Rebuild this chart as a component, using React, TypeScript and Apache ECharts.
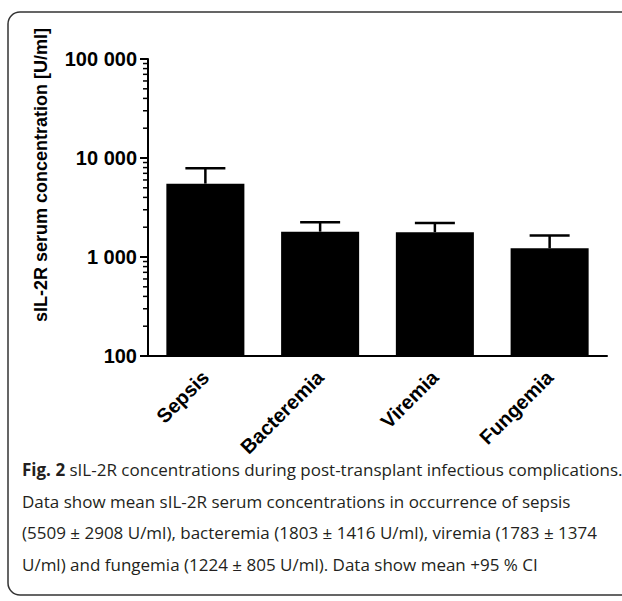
import React, { useEffect, useRef } from "react";
import * as echarts from "echarts";

const categories = ["Sepsis", "Bacteremia", "Viremia", "Fungemia"];
const meanValues = [5509, 1803, 1783, 1224];
const upperCI = [7900, 2250, 2200, 1650];
const majorTicks = [100, 1000, 10000, 100000];
const majorTickLabels = ["100", "1 000", "10 000", "100 000"];
const minorTicks = [
  200, 300, 400, 500, 600, 700, 800, 900,
  2000, 3000, 4000, 5000, 6000, 7000, 8000, 9000,
  20000, 30000, 40000, 50000, 60000, 70000, 80000, 90000,
];
const yAxisTitle = "sIL-2R serum concentration [U/ml]";
const captionLines = [
  " sIL-2R concentrations during post-transplant infectious complications.",
  "Data show mean sIL-2R serum concentrations in occurrence of sepsis",
  "(5509 ± 2908 U/ml), bacteremia (1803 ± 1416 U/ml), viremia (1783 ± 1374",
  "U/ml) and fungemia (1224 ± 805 U/ml). Data show mean +95 % CI",
];
const captionLead = "Fig. 2";

const AXIS_FONT = "'Liberation Sans', Arial, sans-serif";
const CAPTION_FONT = "'Open Sans', 'Noto Sans', sans-serif";

export default function App() {
  const ref = useRef<HTMLDivElement>(null);

  useEffect(() => {
    if (!ref.current) return;
    const chart = echarts.init(ref.current, undefined, { renderer: "svg" });

    const captionGraphics = captionLines.map((line, i) => ({
      type: "text",
      left: 22,
      top: 461 + i * 31.5,
      style: {
        text: i === 0 ? `{b|${captionLead}}${line}` : line,
        font: `17px ${CAPTION_FONT}`,
        fill: "#231f20",
        rich: {
          b: { fontWeight: "bold", fontSize: 17, fontFamily: CAPTION_FONT, fill: "#231f20" },
        },
      },
    }));

    chart.setOption({
      animation: false,
      grid: { left: 148, right: 15, top: 59, bottom: 245, containLabel: false },
      xAxis: {
        type: "category",
        data: categories,
        axisLine: { lineStyle: { color: "#000", width: 2 } },
        axisTick: { alignWithLabel: true, length: 10, lineStyle: { color: "#000", width: 2 } },
        axisLabel: {
          interval: 0,
          rotate: 45,
          margin: 18,
          color: "#000",
          fontWeight: "bold",
          fontSize: 20,
          fontFamily: AXIS_FONT,
        },
      },
      yAxis: {
        type: "log",
        logBase: 10,
        min: 100,
        max: 100000,
        splitLine: { show: false },
        axisLine: { show: true, lineStyle: { color: "#000", width: 2 } },
        axisTick: { show: true, length: 8, lineStyle: { color: "#000", width: 2 } },
        minorTick: { show: false },
        axisLabel: {
          margin: 11,
          color: "#000",
          fontWeight: "bold",
          fontSize: 20,
          fontFamily: AXIS_FONT,
          formatter: (v: number) => {
            const idx = majorTicks.findIndex((t) => Math.abs(t - v) / t < 1e-6);
            return idx >= 0 ? majorTickLabels[idx] : "";
          },
        },
      },
      series: [
        {
          type: "bar",
          data: meanValues,
          barWidth: "68%",
          itemStyle: { color: "#000" },
          z: 2,
        },
        {
          type: "custom",
          data: categories.map((_, i) => [i, meanValues[i], upperCI[i]]),
          renderItem: (params: any, api: any) => {
            const x = api.value(0);
            const base = api.coord([x, api.value(1)]);
            const top = api.coord([x, api.value(2)]);
            const half = 20;
            return {
              type: "group",
              children: [
                {
                  type: "line",
                  shape: { x1: base[0], y1: base[1], x2: top[0], y2: top[1] },
                  style: { stroke: "#000", lineWidth: 2.5 },
                },
                {
                  type: "line",
                  shape: { x1: top[0] - half, y1: top[1], x2: top[0] + half, y2: top[1] },
                  style: { stroke: "#000", lineWidth: 2.5 },
                },
              ],
            };
          },
          z: 3,
        },
        {
          type: "custom",
          data: minorTicks.map((v) => [0, v]),
          renderItem: (params: any, api: any) => {
            const p = api.coord([0, api.value(1)]);
            const ax = params.coordSys.x;
            return {
              type: "line",
              shape: { x1: ax - 5, y1: p[1], x2: ax, y2: p[1] },
              style: { stroke: "#000", lineWidth: 1.5 },
            };
          },
          z: 3,
        },
      ],
      graphic: [
        {
          type: "rect",
          shape: { x: 8, y: 12, width: 700, height: 583, r: 12 },
          style: { fill: "none", stroke: "#333", lineWidth: 1.5 },
          silent: true,
        },
        {
          type: "text",
          x: 41,
          y: 175,
          rotation: Math.PI / 2,
          style: {
            text: yAxisTitle,
            font: `bold 18px ${AXIS_FONT}`,
            fill: "#000",
            align: "center",
            verticalAlign: "middle",
          },
        },
        ...captionGraphics,
      ],
    });

    return () => chart.dispose();
  }, []);

  return (
    <div
      ref={ref}
      style={{ position: "fixed", left: 0, top: 0, width: 622, height: 601, background: "#fff" }}
    />
  );
}
